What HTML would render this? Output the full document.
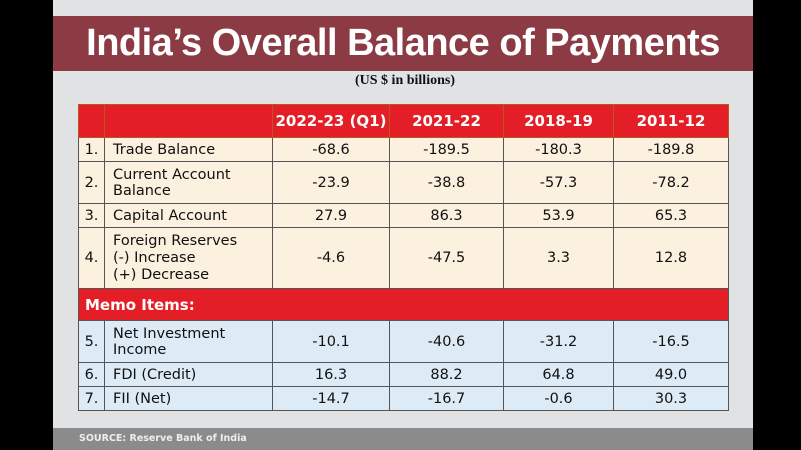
<!DOCTYPE html>
<html><head><meta charset="utf-8"><style>
body{margin:0;width:801px;height:450px;background:#000;position:relative;overflow:hidden;font-family:"DejaVu Sans","Liberation Sans",sans-serif}
#panel{position:absolute;left:53px;top:0;width:700px;height:450px;background:#e1e2e4}
#banner{position:absolute;left:53px;top:16px;width:700px;height:55px;background:#8c3b45;color:#fff;font-family:"Liberation Sans",sans-serif;font-weight:bold;font-size:38px;line-height:55px;text-align:center;white-space:nowrap;letter-spacing:-0.5px}
#sub{position:absolute;left:300px;top:73px;width:210px;text-align:center;font-family:"Liberation Serif",serif;font-weight:bold;font-size:14px;color:#111}
table{position:absolute;left:78px;top:104px;border-collapse:collapse;font-size:14.5px;color:#111}
td,th{border:1px solid #555;padding:0;text-align:center;line-height:16px}
th{background:#e41e26;color:#fff;font-weight:bold;font-size:15px;border-color:#b52}
.c{background:#fcf0de}.b{background:#dcebf6}
.l{text-align:left;padding-left:8px}
.memo{background:#e41e26;color:#fff;font-weight:bold;text-align:left;padding-left:6px;font-size:15px}
#src{position:absolute;left:53px;top:428px;width:700px;height:22px;background:#8b8b8b;color:#eee;font-size:9.5px;font-weight:bold;line-height:22px;padding-left:26px;box-sizing:border-box}
</style></head><body>
<div id="panel"></div>
<div id="banner">India’s Overall Balance of Payments</div>
<div id="sub">(US $ in billions)</div>
<table>
<colgroup><col style="width:26px"><col style="width:168px"><col style="width:117px"><col style="width:114px"><col style="width:110px"><col style="width:115px"></colgroup>
<tr style="height:33px"><th></th><th></th><th>2022-23 (Q1)</th><th>2021-22</th><th>2018-19</th><th>2011-12</th></tr>
<tr class="c" style="height:24px"><td>1.</td><td class="l">Trade Balance</td><td>-68.6</td><td>-189.5</td><td>-180.3</td><td>-189.8</td></tr>
<tr class="c" style="height:42px"><td>2.</td><td class="l">Current Account<br>Balance</td><td>-23.9</td><td>-38.8</td><td>-57.3</td><td>-78.2</td></tr>
<tr class="c" style="height:24px"><td>3.</td><td class="l">Capital Account</td><td>27.9</td><td>86.3</td><td>53.9</td><td>65.3</td></tr>
<tr class="c" style="height:61px"><td>4.</td><td class="l" style="line-height:17px">Foreign Reserves<br>(-) Increase<br>(+) Decrease</td><td>-4.6</td><td>-47.5</td><td>3.3</td><td>12.8</td></tr>
<tr style="height:32px"><td colspan="6" class="memo">Memo Items:</td></tr>
<tr class="b" style="height:42px"><td>5.</td><td class="l">Net Investment<br>Income</td><td>-10.1</td><td>-40.6</td><td>-31.2</td><td>-16.5</td></tr>
<tr class="b" style="height:24px"><td>6.</td><td class="l">FDI (Credit)</td><td>16.3</td><td>88.2</td><td>64.8</td><td>49.0</td></tr>
<tr class="b" style="height:24px"><td>7.</td><td class="l">FII (Net)</td><td>-14.7</td><td>-16.7</td><td>-0.6</td><td>30.3</td></tr>
</table>
<div id="src">SOURCE: Reserve Bank of India</div>
</body></html>
